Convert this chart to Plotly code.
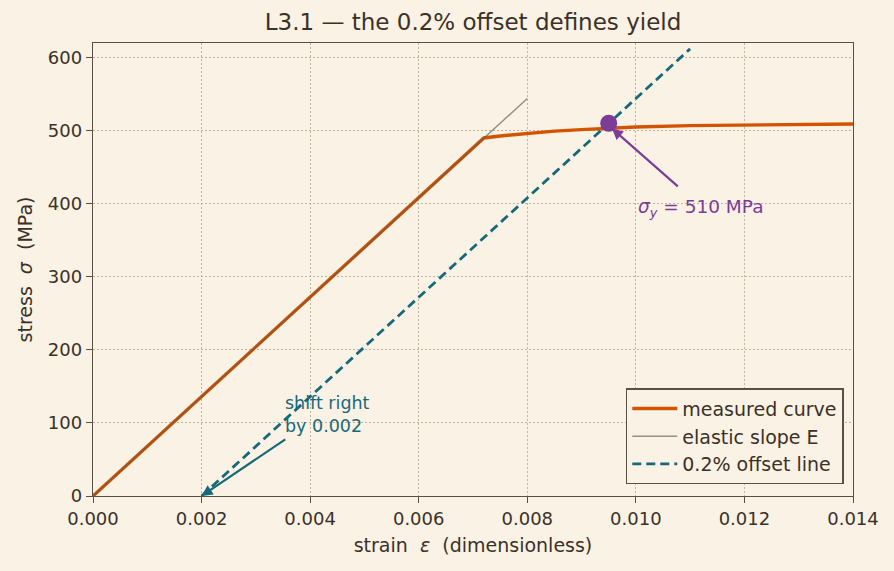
import plotly.graph_objects as go

# measured curve (strain, stress MPa)
meas_strain = [0.0, 0.0072, 0.0075, 0.0080, 0.0085, 0.0090, 0.0095, 0.0100, 0.0110, 0.0120, 0.0130, 0.0140]
meas_stress = [0.0, 490.0, 492.8, 496.6, 499.4, 501.5, 503.7, 505.0, 506.9, 508.0, 508.7, 509.2]

# elastic slope line
elastic_strain = [0.0, 0.008]
elastic_stress = [0.0, 544.0]

# 0.2% offset line
offset_strain = [0.002, 0.011]
offset_stress = [0.0, 612.0]

# yield point
yield_strain = [0.0095]
yield_stress = [510.0]

x_ticks = [0.0, 0.002, 0.004, 0.006, 0.008, 0.010, 0.012, 0.014]
y_ticks = [0, 100, 200, 300, 400, 500, 600]

BG = "#faf2e4"
TXT = "#3b3128"
AX = "#5b4f43"
ORANGE = "#d35400"
GREY = "rgba(100,90,80,0.65)"
TEAL = "#17697a"
PURPLE = "#7d3c98"
FONT = "DejaVu Sans"

fig = go.Figure()
fig.add_trace(go.Scatter(x=meas_strain, y=meas_stress, mode="lines", name="measured curve",
                         line=dict(color=ORANGE, width=3.4)))
fig.add_trace(go.Scatter(x=elastic_strain, y=elastic_stress, mode="lines", name="elastic slope E",
                         line=dict(color=GREY, width=1.5)))
fig.add_trace(go.Scatter(x=offset_strain, y=offset_stress, mode="lines", name="0.2% offset line",
                         line=dict(color=TEAL, width=2.8, dash="9px,5px")))
fig.add_trace(go.Scatter(x=yield_strain, y=yield_stress, mode="markers", showlegend=False,
                         marker=dict(color=PURPLE, size=17)))

# purple arrow
fig.add_annotation(x=yield_strain[0] + 0.00006, y=yield_stress[0] - 7, ax=0.0108, ay=422,
                   xref="x", yref="y", axref="x", ayref="y", text="", showarrow=True,
                   arrowhead=2, arrowsize=1, arrowwidth=2.2, arrowcolor=PURPLE)
fig.add_annotation(x=0.0100, y=394, xref="x", yref="y", xanchor="left", yanchor="middle",
                   text="<i>σ</i><sub><i>y</i></sub> = 510 MPa", showarrow=False,
                   font=dict(family=FONT, size=18.5, color=PURPLE))

# teal arrow
fig.add_annotation(x=0.002, y=0, ax=0.00357, ay=79, xref="x", yref="y", axref="x", ayref="y",
                   text="", showarrow=True, arrowhead=2, arrowsize=1, arrowwidth=2.2, arrowcolor=TEAL)
fig.add_annotation(x=0.00350, y=112, xref="x", yref="y", xanchor="left", yanchor="middle",
                   text="shift right<br>by 0.002", align="left", showarrow=False,
                   font=dict(family=FONT, size=17.5, color=TEAL))

axis_common = dict(showline=True, linecolor=AX, linewidth=1.4, mirror=True,
                   ticks="outside", ticklen=6, tickcolor=AX, tickwidth=1.3,
                   showgrid=True, gridcolor="#bfb3a0", griddash="1.5px,2.5px", gridwidth=1,
                   zeroline=False, tickfont=dict(family=FONT, size=18, color=TXT))

fig.update_xaxes(range=[0, 0.014], tickvals=x_ticks, tickformat=".3f",
                 title=dict(text="strain  <i>ε</i>  (dimensionless)", font=dict(family=FONT, size=19, color=TXT), standoff=10),
                 **axis_common)
fig.update_yaxes(range=[0, 620], tickvals=y_ticks,
                 title=dict(text="stress  <i>σ</i>  (MPa)", font=dict(family=FONT, size=19, color=TXT), standoff=10),
                 **axis_common)

fig.update_layout(
    width=894, height=571,
    paper_bgcolor=BG, plot_bgcolor=BG,
    margin=dict(l=93, r=41, t=43, b=75),
    title=dict(text="L3.1 — the 0.2% offset defines yield", x=0.5, xref="paper", xanchor="center",
               y=0.962, yanchor="middle", font=dict(family=FONT, size=23, color=TXT)),
    font=dict(family=FONT, color=TXT),
    legend=dict(x=0.988, y=0.026, xanchor="right", yanchor="bottom",
                bgcolor=BG, bordercolor=AX, borderwidth=1.4, itemwidth=45,
                font=dict(family=FONT, size=19, color=TXT), tracegroupgap=0),
)

fig.write_html("out.html")
